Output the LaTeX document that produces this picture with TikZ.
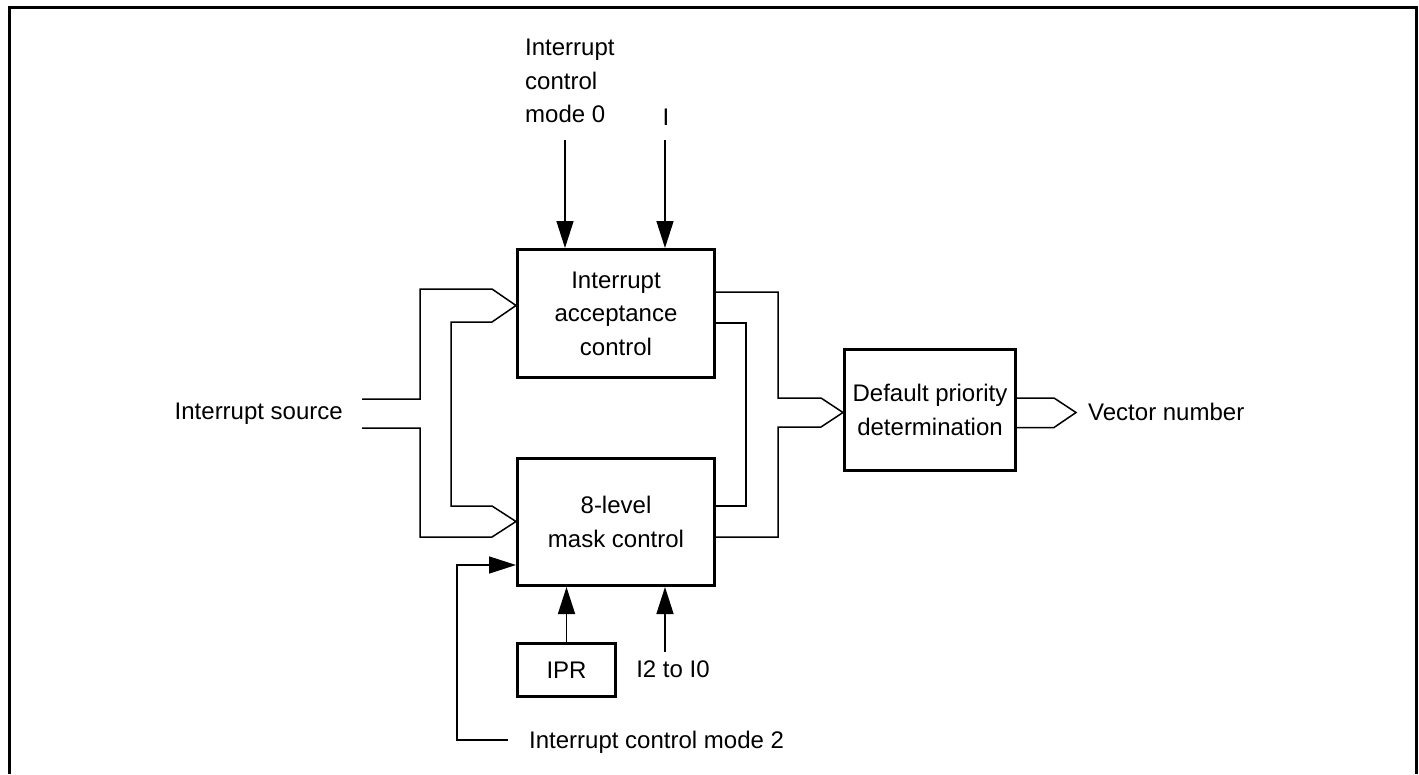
\documentclass[tikz,border=0pt]{standalone}
\usepackage{fontspec}
\setmainfont{Liberation Sans}
\usetikzlibrary{arrows.meta}
\tikzset{
  lbl/.style={inner sep=0pt, font=\fontsize{24}{33.5}\selectfont},
  blockbox/.style={draw, line width=3pt, inner sep=0pt, align=center, anchor=north west, font=\fontsize{24}{33.5}\selectfont},
  bus/.style={line width=1.5pt, line join=miter},
  arr/.style={line width=1.5pt, -{Triangle[length=27pt,width=17pt]}}
}
\begin{document}
\begin{tikzpicture}[x=1pt,y=-1pt]
\useasboundingbox (0,0) rectangle (1419,774);
% frame
\draw[line width=3pt] (9.5,774) -- (9.5,7.5) -- (1416.5,7.5) -- (1416.5,774);

% blocks
\node[blockbox, minimum width=197pt, minimum height=128pt] (acc) at (516,248) {Interrupt\\acceptance\\control};
\node[blockbox, minimum width=197pt, minimum height=127pt] (mask) at (516,457) {8-level\\mask control};
\node[blockbox, minimum width=171pt, minimum height=121pt] (dpd) at (843,348) {Default priority\\determination};
\node[blockbox, minimum width=98pt, minimum height=53pt] (ipr) at (516,642) {IPR};

% labels
\node[lbl, align=left, anchor=north west] (m0) at (525,39) {Interrupt\\control\\mode 0};
\node[lbl, anchor=base] (ilbl) at (666,125) {I};
\node[lbl, anchor=base east] (src) at (343,419) {Interrupt source};
\node[lbl, anchor=base west] (vec) at (1088,420) {Vector number};
\node[lbl, anchor=base] (i20) at (673,677) {I2 to I0};
\node[lbl, anchor=base west] (m2) at (529,748) {Interrupt control mode 2};

% coordinates
\coordinate (m0s) at (565,140);
\coordinate (is) at (665,140);
\coordinate (i20s) at (665,652);
\coordinate (m2s) at (508,740);
\coordinate (srcA) at (362,399);
\coordinate (srcB) at (362,428);
\coordinate (vtip) at (1076,412.5);

% input arrows
\draw[arr] (m0s) -- (acc.north -| m0s);
\draw[arr] (is) -- (acc.north -| is);
\draw[arr] (ipr.north) -- (mask.south -| ipr.north);
\draw[arr] (i20s) -- (mask.south -| i20s);
\draw[arr] (m2s) -- (457,740) -- (457,565) -- (mask.west |- 0,565);

% interrupt source bus
\draw[bus] (srcA) -- (420,399) -- (420,289) -- (492,289) -- (acc.west |- 0,305.5)
  -- (492,322) -- (451,322) -- (451,506) -- (492,506) -- (mask.west |- 0,521.5)
  -- (492,537) -- (420,537) -- (420,428) -- (srcB);

% outputs to default priority
\draw[bus] (acc.east |- 0,292) -- (778,292) -- (778,398) -- (821,398)
  -- (dpd.west |- 0,412.5) -- (821,427) -- (778,427) -- (778,537) -- (mask.east |- 0,537);
\draw[bus] (acc.east |- 0,323) -- (746,323) -- (746,506) -- (mask.east |- 0,506);

% vector number output
\draw[bus] (dpd.east |- 0,398) -- (1054,398) -- (vtip) -- (1054,427.5) -- (dpd.east |- 0,427.5);
\end{tikzpicture}
\end{document}
